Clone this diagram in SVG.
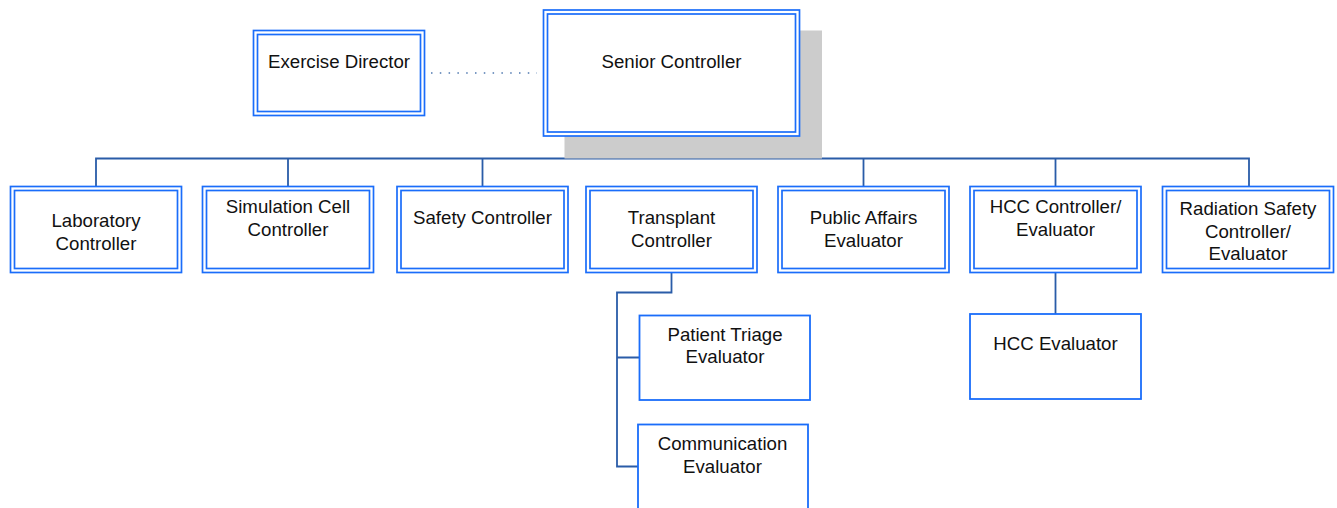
<svg xmlns="http://www.w3.org/2000/svg" width="1337" height="508" viewBox="0 0 1337 508">
<style>
.o{fill:#fff;stroke:#1a6dfa;stroke-width:1.7}
.i{fill:none;stroke:#1a6dfa;stroke-width:1.7}
.s{fill:#fff;stroke:#1a6dfa;stroke-width:1.8}
.c{fill:none;stroke:#2a5ca8;stroke-width:1.8}
.d{fill:none;stroke:#4f78b0;stroke-width:1.6;stroke-dasharray:1.5 7.3}
text{font-family:"Liberation Sans",Arial,sans-serif;font-size:18.67px;fill:#111;text-anchor:middle}
</style>
<rect width="1337" height="508" fill="#fff"/>
<g id="connectors">
<line class="d" x1="431" y1="73" x2="537" y2="73"/>
<path class="c" d="M671.5 136V158.5M96 186.5V158.5H1249V186.5M288 158.5V186.5M482.5 158.5V186.5M863.5 158.5V186.5M1055.5 158.5V186.5"/>
<path class="c" d="M671.5 273V292.5H617V466.5H638M617 357.5H639.5M1055.5 273V314"/>
</g>
<g id="exercise-director">
<rect class="o" x="253.5" y="30.5" width="171" height="85"/>
<rect class="i" x="257.5" y="34.5" width="163" height="77"/>
<text x="339" y="67.5">Exercise Director</text>
</g>
<g id="senior-controller">
<rect x="564.5" y="30.5" width="257.5" height="128" fill="#cccccc"/>
<rect class="o" x="543.5" y="10" width="256" height="126"/>
<rect class="i" x="547.5" y="14" width="248" height="118"/>
<text x="671.5" y="67.5">Senior Controller</text>
</g>
<g id="laboratory-controller">
<rect class="o" x="10.5" y="186.5" width="171" height="86"/>
<rect class="i" x="14.5" y="190.5" width="163" height="78"/>
<text x="96" y="226.5">Laboratory</text>
<text x="96" y="249.5">Controller</text>
</g>
<g id="simulation-cell-controller">
<rect class="o" x="202.5" y="186.5" width="171" height="86"/>
<rect class="i" x="206.5" y="190.5" width="163" height="78"/>
<text x="288" y="212.5">Simulation Cell</text>
<text x="288" y="235.5">Controller</text>
</g>
<g id="safety-controller">
<rect class="o" x="397" y="186.5" width="171" height="86"/>
<rect class="i" x="401" y="190.5" width="163" height="78"/>
<text x="482.5" y="223.5">Safety Controller</text>
</g>
<g id="transplant-controller">
<rect class="o" x="586" y="186.5" width="171" height="86"/>
<rect class="i" x="590" y="190.5" width="163" height="78"/>
<text x="671.5" y="223.5">Transplant</text>
<text x="671.5" y="246.5">Controller</text>
</g>
<g id="public-affairs-evaluator">
<rect class="o" x="778" y="186.5" width="171" height="86"/>
<rect class="i" x="782" y="190.5" width="163" height="78"/>
<text x="863.5" y="223.5">Public Affairs</text>
<text x="863.5" y="246.5">Evaluator</text>
</g>
<g id="hcc-controller-evaluator">
<rect class="o" x="970" y="186.5" width="171" height="86"/>
<rect class="i" x="974" y="190.5" width="163" height="78"/>
<text x="1055.5" y="212.5">HCC Controller/</text>
<text x="1055.5" y="235.5">Evaluator</text>
</g>
<g id="radiation-safety-controller-evaluator">
<rect class="o" x="1162.5" y="186.5" width="171" height="86"/>
<rect class="i" x="1166.5" y="190.5" width="163" height="78"/>
<text x="1248" y="215">Radiation Safety</text>
<text x="1248" y="237.5">Controller/</text>
<text x="1248" y="260">Evaluator</text>
</g>
<g id="patient-triage-evaluator">
<rect class="s" x="639.5" y="315.5" width="170.5" height="84.5"/>
<text x="725" y="340.5">Patient Triage</text>
<text x="725" y="362.5">Evaluator</text>
</g>
<g id="communication-evaluator">
<rect class="s" x="638" y="424.5" width="170" height="110"/>
<text x="722.5" y="449.5">Communication</text>
<text x="722.5" y="472.5">Evaluator</text>
</g>
<g id="hcc-evaluator">
<rect class="s" x="970" y="314" width="171" height="85"/>
<text x="1055.5" y="349.5">HCC Evaluator</text>
</g>
</svg>
